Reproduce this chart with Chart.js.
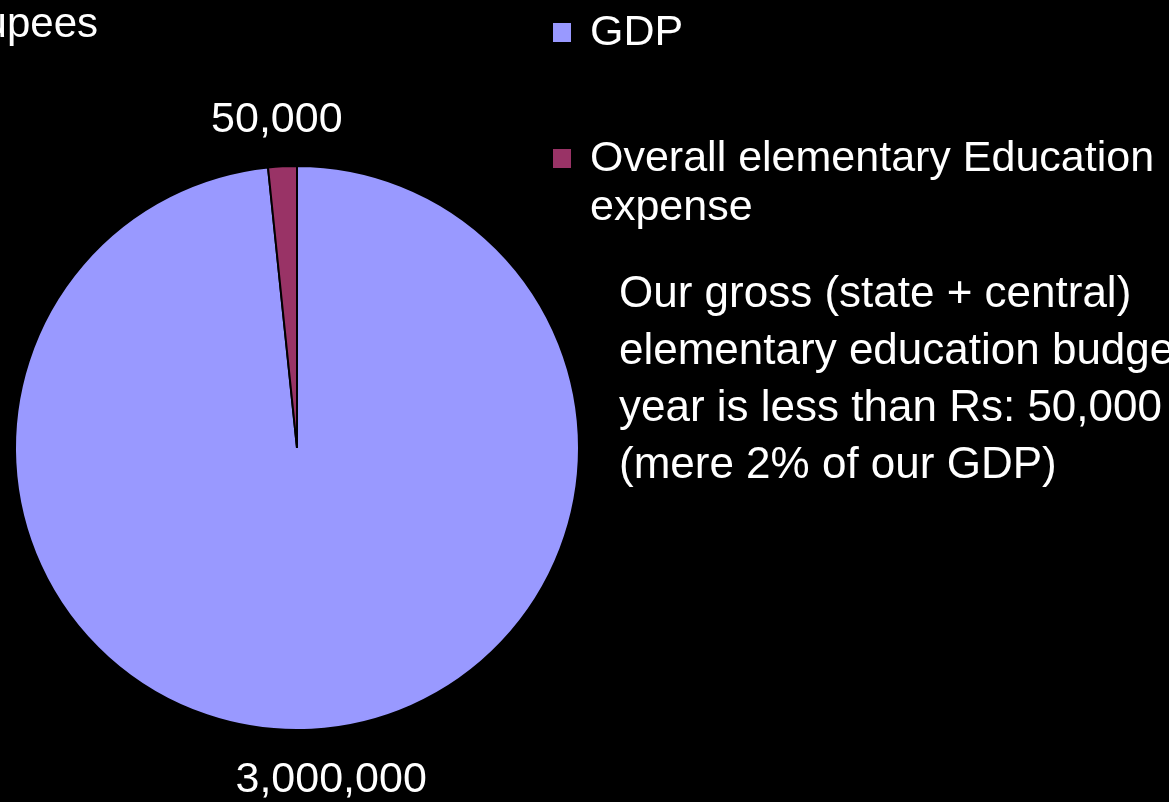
<!DOCTYPE html>
<html lang="en">
    <head>
        <script src="https://cdn.jsdelivr.net/npm/chart.js"></script>
        <title> GDP vs Elementary Education </title>
        <style>
            * { box-sizing: border-box; }
            body {
                margin: 0;
                background-color: #000;
                overflow: hidden;
            }
            #wrap {
                width: 1169px;
                height: 802px;
            }
        </style>
    </head>
    <body>
        <div id="wrap">
            <canvas id="budgetPie" width="1169" height="802"></canvas>
        </div>

        <script>
            // values in crore rupees
            const categories = ['GDP', 'Overall elementary Education expense'];
            const values = [3000000, 50000];
            const valueLabels = ['3,000,000', '50,000'];
            const sliceColors = ['#9999FF', '#993366'];

            const legendLines = [['GDP'], ['Overall elementary Education', 'expense']];
            const noteLines = [
                'Our gross (state + central)',
                'elementary education budget per',
                'year is less than Rs: 50,000',
                '(mere 2% of our GDP)'
            ];
            const unitText = 'In crore rupees';

            const FONT = '"Liberation Sans", Arial, sans-serif';
            // small nudge of the value labels, like the original slide
            const labelNudgeX = [17, -3];
            const labelNudgeY = [0, 5];

            // draws labels, legend and note text on the canvas
            const textPlugin = {
                id: 'textPlugin',
                afterDraw(chart) {
                    const c = chart.ctx;
                    const meta = chart.getDatasetMeta(0);
                    c.save();
                    c.fillStyle = '#fff';

                    // value labels outside each slice
                    c.font = '43px ' + FONT;
                    c.textAlign = 'center';
                    c.textBaseline = 'middle';
                    meta.data.forEach((arc, i) => {
                        const mid = (arc.startAngle + arc.endAngle) / 2;
                        const r = arc.outerRadius + 51;
                        c.fillText(valueLabels[i],
                            arc.x + Math.cos(mid) * r + labelNudgeX[i],
                            arc.y + Math.sin(mid) * r + labelNudgeY[i]);
                    });

                    // unit caption (cut off at the left edge)
                    c.textBaseline = 'alphabetic';
                    c.textAlign = 'right';
                    c.font = '42px ' + FONT;
                    c.fillText(unitText, 98, 37);

                    // legend
                    c.textAlign = 'left';
                    c.font = '43px ' + FONT;
                    const legendTops = [45, 171];
                    legendLines.forEach((lines, i) => {
                        c.fillStyle = sliceColors[i];
                        c.fillRect(553, legendTops[i] - 22, 18, 19);
                        c.fillStyle = '#fff';
                        lines.forEach((t, j) => c.fillText(t, 590, legendTops[i] + j * 49));
                    });

                    // note
                    c.font = '44px ' + FONT;
                    noteLines.forEach((t, j) => c.fillText(t, 619, 307 + j * 57));

                    c.restore();
                }
            };

            new Chart(document.getElementById('budgetPie'), {
                type: 'pie',
                data: {
                    labels: categories,
                    datasets: [{
                        data: values,
                        backgroundColor: sliceColors,
                        borderColor: '#000',
                        borderWidth: 2,
                        hoverOffset: 0
                    }]
                },
                options: {
                    responsive: false,
                    animation: false,
                    radius: 282,
                    layout: {
                        padding: { left: 9, right: 584, top: 158, bottom: 64 }
                    },
                    plugins: {
                        legend: { display: false },
                        tooltip: { enabled: false }
                    }
                },
                plugins: [textPlugin]
            });
        </script>
    </body>
</html>
